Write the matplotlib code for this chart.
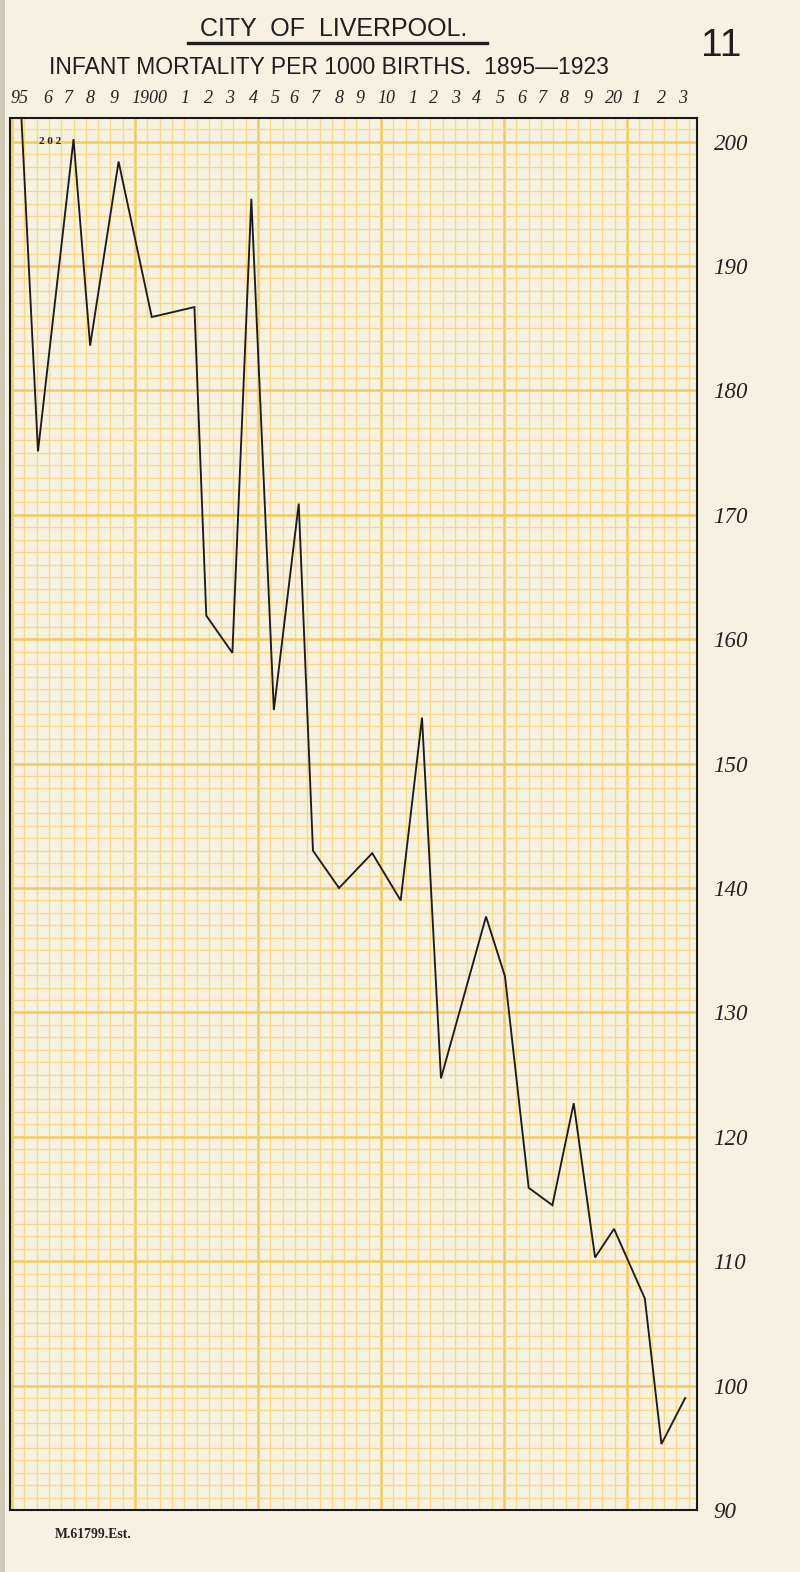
import numpy as np
import matplotlib.pyplot as plt
from matplotlib.lines import Line2D
from matplotlib.patches import Rectangle

# infant mortality per 1000 births
# (x positions are where the vertices sit, in years)
years = [1895.1, 1895.8, 1897.3, 1898.0, 1899.2, 1900.6, 1902.4, 1902.9,
         1904.0, 1904.8, 1905.75, 1906.8, 1907.4, 1908.5, 1909.9, 1911.1,
         1912.0, 1912.8, 1914.7, 1915.5, 1916.5, 1917.5, 1918.4, 1919.3,
         1920.1, 1921.4, 1922.1, 1923.1]
rate = [202.0, 175.1, 200.2, 183.6, 198.4, 185.9, 186.7, 161.9,
        158.9, 195.4, 154.3, 170.9, 143.0, 140.0, 142.8, 139.0,
        153.7, 124.7, 137.7, 132.9, 115.9, 114.5, 122.7, 110.3,
        112.6, 107.0, 95.3, 99.0]

year_labels = ['95', '6', '7', '8', '9', '1900', '1', '2', '3', '4', '5', '6', '7', '8', '9',
               '10', '1', '2', '3', '4', '5', '6', '7', '8', '9', '20', '1', '2', '3']
# the printed year strip is not evenly spaced; where each label sits (years)
label_at = [1895.0, 1896.2, 1897.1, 1898.0, 1899.0, 1900.5, 1902.0, 1903.0, 1903.9,
            1904.9, 1905.8, 1906.6, 1907.5, 1908.5, 1909.4, 1910.5, 1911.6, 1912.5,
            1913.4, 1914.3, 1915.3, 1916.2, 1917.1, 1918.0, 1919.0, 1920.1, 1921.0,
            1922.1, 1923.0]
rate_ticks = list(range(90, 201, 10))

W, H = 800, 1572
paper = '#f7f1e1'
fig = plt.figure(figsize=(W / 100, H / 100), dpi=100)
fig.patch.set_facecolor(paper)

rect = [10 / W, 62 / H, 687 / W, 1392 / H]
ylo, yhi = 90, 201.9

# graph paper
gax = fig.add_axes(rect, zorder=0)
gax.set_facecolor('#fbf3dc')
gax.set_xlim(10, 697)
gax.set_ylim(ylo, yhi)
gx = 12 + 12.3 * np.arange(56)
gax.vlines(gx, ylo, yhi, color='#f5d987', lw=1.0)
gax.vlines(gx[::10], ylo, yhi, color='#f0cd62', lw=1.8)
gy = np.arange(90, 202)
gax.hlines(gy, 10, 697, color='#f5d987', lw=1.0)
gax.hlines(gy[::10], 10, 697, color='#f0cd62', lw=1.8)
gax.axis('off')

ax = fig.add_axes(rect, zorder=1)
ax.patch.set_alpha(0)
ax.plot(years, rate, color='#1e1c1a', lw=1.35, solid_joinstyle='miter')
ax.set_xlim(1894.62, 1923.6)
ax.set_ylim(ylo, yhi)
for s in ax.spines.values():
    s.set_color('#1a1a1a')
    s.set_linewidth(1.5)

ax.xaxis.tick_top()
ax.set_xticks(label_at)
ax.set_xticklabels(year_labels, fontfamily='Liberation Serif', fontstyle='italic',
                   fontsize=13, color='#222222')
ax.tick_params(axis='x', length=0, pad=8)
ax.yaxis.tick_right()
ax.set_yticks(rate_ticks)
ax.set_yticklabels([str(v) for v in rate_ticks], fontfamily='Liberation Serif',
                   fontstyle='italic', fontsize=16.5, color='#222222')
ax.tick_params(axis='y', length=0, pad=12)

ax.text(1896.3, 200.0, '2 0 2', fontsize=8, fontweight='bold', fontfamily='Liberation Serif',
        ha='center', va='center', color='#222222')

# headings
fig.text(334 / W, 1 - 29 / H, 'CITY  OF  LIVERPOOL.', ha='center', va='center',
         fontsize=18, fontfamily='Liberation Sans', color='#1e1e1e')
fig.add_artist(Line2D([188 / W, 487 / W], [1 - 43 / H, 1 - 43 / H], color='#1e1e1e', lw=2.4))
fig.text(329 / W, 1 - 67 / H, 'INFANT MORTALITY PER 1000 BIRTHS.  1895\u20141923', ha='center',
         va='center', fontsize=16.5, fontfamily='Liberation Sans', color='#1e1e1e')
fig.text(721 / W, 1 - 46 / H, '11', ha='center', va='center', fontsize=28,
         fontfamily='Liberation Sans', color='#1e1e1e')
fig.text(55 / W, 1 - 1534 / H, 'M.61799.Est.', ha='left', va='center', fontsize=9.8,
         fontweight='bold', fontfamily='Liberation Serif', color='#222222')

# binding edge on the left
fig.add_artist(Rectangle((0, 0), 5 / W, 1, transform=fig.transFigure, color='#cfc8b6', lw=0))

fig.savefig('out.png', dpi=100, facecolor=paper)
